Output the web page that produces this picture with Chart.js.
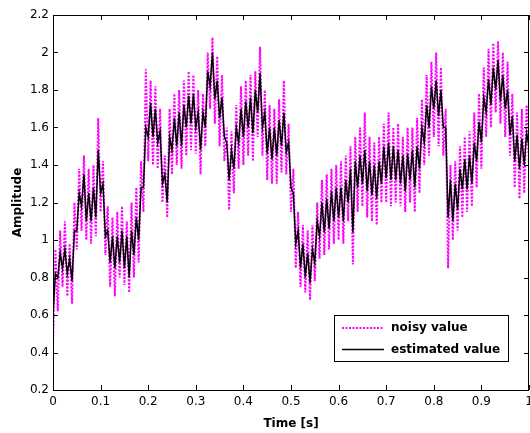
<!DOCTYPE html>
<html>
<head>
<meta charset="utf-8">
<title>Amplitude vs Time</title>
<script src="https://cdn.jsdelivr.net/npm/chart.js@4/dist/chart.umd.min.js"></script>
<style>
  html, body { margin: 0; padding: 0; background: #fff; }
  #wrap { width: 530px; height: 433px; }
</style>
</head>
<body>
<div id="wrap"><canvas id="chart" width="530" height="433"></canvas></div>
<script>
// Sample spacing of both signals, in seconds
const dt = 0.005;

// Axis ticks
const xTicks = [0, 0.1, 0.2, 0.3, 0.4, 0.5, 0.6, 0.7, 0.8, 0.9, 1];
const yTicks = [0.2, 0.4, 0.6, 0.8, 1, 1.2, 1.4, 1.6, 1.8, 2, 2.2];

const noisyValue = [
  0.45, 0.95, 0.62, 1.05, 0.75, 1.10, 0.70, 0.98, 0.66, 1.20,
  0.95, 1.38, 1.05, 1.45, 1.00, 1.38, 0.98, 1.40, 1.02, 1.65,
  1.15, 1.42, 0.92, 1.18, 0.75, 1.12, 0.70, 1.15, 0.80, 1.18,
  0.76, 1.10, 0.72, 1.20, 0.80, 1.28, 0.88, 1.42, 1.15, 1.91,
  1.42, 1.85, 1.40, 1.82, 1.38, 1.70, 1.20, 1.45, 1.12, 1.70,
  1.35, 1.78, 1.40, 1.80, 1.38, 1.85, 1.45, 1.90, 1.48, 1.88,
  1.46, 1.80, 1.35, 1.78, 1.50, 2.00, 1.70, 2.08, 1.62, 1.98,
  1.50, 1.88, 1.42, 1.60, 1.16, 1.58, 1.25, 1.72, 1.38, 1.82,
  1.40, 1.85, 1.45, 1.88, 1.42, 1.90, 1.55, 2.03, 1.45, 1.80,
  1.32, 1.72, 1.30, 1.70, 1.30, 1.75, 1.36, 1.85, 1.35, 1.62,
  1.15, 1.38, 0.85, 1.15, 0.75, 1.08, 0.72, 1.05, 0.68, 1.08,
  0.78, 1.20, 0.90, 1.32, 0.92, 1.35, 0.95, 1.38, 0.98, 1.40,
  1.00, 1.42, 0.98, 1.45, 1.10, 1.50, 0.87, 1.55, 1.15, 1.60,
  1.18, 1.68, 1.12, 1.55, 1.10, 1.52, 1.08, 1.55, 1.20, 1.62,
  1.20, 1.68, 1.18, 1.60, 1.20, 1.62, 1.18, 1.55, 1.15, 1.60,
  1.20, 1.60, 1.15, 1.65, 1.25, 1.75, 1.40, 1.88, 1.45, 1.95,
  1.55, 2.00, 1.50, 1.92, 1.45, 1.70, 0.85, 1.40, 1.00, 1.42,
  1.05, 1.50, 1.12, 1.55, 1.15, 1.58, 1.18, 1.68, 1.28, 1.78,
  1.38, 1.92, 1.55, 2.02, 1.60, 2.05, 1.68, 2.06, 1.62, 2.00,
  1.55, 1.95, 1.45, 1.78, 1.28, 1.68, 1.22, 1.70, 1.25, 1.72,
  1.40
];

// Estimated value (filter output), same time base
const estimatedValue = [
  0.60, 0.82, 0.80, 0.93, 0.85, 0.95, 0.82, 0.90, 0.78, 1.05,
  1.05, 1.25, 1.18, 1.35, 1.10, 1.25, 1.10, 1.28, 1.12, 1.48,
  1.25, 1.30, 1.02, 1.05, 0.88, 1.02, 0.85, 1.02, 0.88, 1.05,
  0.85, 1.02, 0.80, 1.05, 0.92, 1.12, 1.00, 1.28, 1.28, 1.60,
  1.55, 1.73, 1.55, 1.70, 1.52, 1.58, 1.30, 1.35, 1.20, 1.55,
  1.48, 1.65, 1.50, 1.68, 1.50, 1.72, 1.60, 1.77, 1.62, 1.78,
  1.60, 1.68, 1.48, 1.68, 1.60, 1.90, 1.82, 2.00, 1.75, 1.85,
  1.65, 1.76, 1.55, 1.52, 1.32, 1.48, 1.38, 1.60, 1.52, 1.70,
  1.55, 1.74, 1.60, 1.76, 1.57, 1.80, 1.68, 1.89, 1.60, 1.68,
  1.46, 1.60, 1.43, 1.60, 1.45, 1.64, 1.50, 1.68, 1.47, 1.52,
  1.28, 1.25, 0.98, 1.05, 0.85, 0.98, 0.80, 0.93, 0.77, 0.95,
  0.88, 1.10, 1.02, 1.20, 1.04, 1.22, 1.06, 1.26, 1.10, 1.28,
  1.12, 1.28, 1.10, 1.32, 1.20, 1.38, 1.04, 1.42, 1.28, 1.45,
  1.30, 1.48, 1.26, 1.42, 1.24, 1.40, 1.22, 1.42, 1.30, 1.50,
  1.33, 1.52, 1.32, 1.50, 1.32, 1.48, 1.30, 1.45, 1.26, 1.46,
  1.32, 1.48, 1.28, 1.50, 1.38, 1.60, 1.52, 1.72, 1.60, 1.82,
  1.70, 1.85, 1.66, 1.80, 1.60, 1.60, 1.12, 1.32, 1.10, 1.30,
  1.16, 1.38, 1.27, 1.43, 1.27, 1.45, 1.30, 1.52, 1.42, 1.63,
  1.52, 1.76, 1.68, 1.86, 1.72, 1.92, 1.80, 1.96, 1.74, 1.88,
  1.70, 1.80, 1.56, 1.66, 1.42, 1.56, 1.38, 1.54, 1.40, 1.57,
  1.50
];

const toPoints = (values) => values.map((v, i) => ({ x: i * dt, y: v }));

// Frame with inward ticks on all four sides, MATLAB style
const framePlugin = {
  id: 'frame',
  afterDatasetsDraw(chart) {
    const { ctx, chartArea: a, scales } = chart;
    const len = 5;
    ctx.save();
    ctx.strokeStyle = '#000';
    ctx.lineWidth = 1;
    ctx.strokeRect(Math.round(a.left) + 0.5, Math.round(a.top) + 0.5,
      Math.round(a.right - a.left) - 1, Math.round(a.bottom - a.top));
    ctx.beginPath();
    xTicks.forEach(t => {
      const px = Math.round(scales.x.getPixelForValue(t)) + 0.5;
      ctx.moveTo(px, a.bottom); ctx.lineTo(px, a.bottom - len);
      ctx.moveTo(px, a.top); ctx.lineTo(px, a.top + len);
    });
    yTicks.forEach(t => {
      const py = Math.round(scales.y.getPixelForValue(t)) + 0.5;
      ctx.moveTo(a.left, py); ctx.lineTo(a.left + len, py);
      ctx.moveTo(a.right, py); ctx.lineTo(a.right - len, py);
    });
    ctx.stroke();
    ctx.restore();
  }
};

// Legend box in the lower right of the plot
const legendPlugin = {
  id: 'boxLegend',
  afterDraw(chart) {
    const { ctx } = chart;
    const box = { x: 334.5, y: 315.5, w: 174, h: 46 };
    const rows = [
      { ds: chart.data.datasets[0], y: 328 },
      { ds: chart.data.datasets[1], y: 349.5 }
    ];
    ctx.save();
    ctx.fillStyle = '#fff';
    ctx.fillRect(box.x, box.y, box.w, box.h);
    ctx.strokeStyle = '#000';
    ctx.lineWidth = 1;
    ctx.strokeRect(box.x, box.y, box.w, box.h);
    rows.forEach(r => {
      ctx.beginPath();
      ctx.strokeStyle = r.ds.borderColor;
      ctx.lineWidth = r.ds.borderWidth;
      ctx.setLineDash(r.ds.borderDash || []);
      ctx.moveTo(342, r.y);
      ctx.lineTo(384, r.y);
      ctx.stroke();
      ctx.setLineDash([]);
      ctx.fillStyle = '#000';
      ctx.font = 'bold 12px "DejaVu Sans"';
      ctx.textBaseline = 'middle';
      ctx.fillText(r.ds.label, 391, r.y);
    });
    ctx.restore();
  }
};

new Chart(document.getElementById('chart'), {
  type: 'line',
  data: {
    datasets: [
      {
        label: 'noisy value',
        data: toPoints(noisyValue),
        borderColor: '#ff00ff',
        borderWidth: 2,
        borderDash: [2, 1.5],
        pointRadius: 0,
        tension: 0,
        order: 1
      },
      {
        label: 'estimated value',
        data: toPoints(estimatedValue),
        borderColor: '#000000',
        borderWidth: 1.5,
        pointRadius: 0,
        tension: 0,
        order: 0
      }
    ]
  },
  options: {
    responsive: false,
    animation: false,
    layout: { padding: { left: 0, top: 15, right: 1, bottom: 0 } },
    plugins: { legend: { display: false }, tooltip: { enabled: false } },
    scales: {
      x: {
        type: 'linear',
        min: 0,
        max: 1,
        afterBuildTicks: (scale) => { scale.ticks = xTicks.map(v => ({ value: v })); },
        afterFit: (scale) => { scale.height = 43; scale.paddingLeft = 0; scale.paddingRight = 0; },
        grid: { display: false, drawTicks: false },
        border: { display: false },
        ticks: {
          color: '#000',
          padding: 5,
          maxRotation: 0,
          autoSkip: false,
          font: { family: 'DejaVu Sans', size: 12 },
          callback: (v) => String(Number(v.toFixed(1)))
        },
        title: {
          display: true,
          text: 'Time [s]',
          color: '#000',
          padding: { top: 0, bottom: 2 },
          font: { family: 'DejaVu Sans', size: 12, weight: 'bold' }
        }
      },
      y: {
        min: 0.2,
        max: 2.2,
        afterBuildTicks: (scale) => { scale.ticks = yTicks.map(v => ({ value: v })); },
        afterFit: (scale) => { scale.width = 53; scale.paddingTop = 0; scale.paddingBottom = 0; },
        grid: { display: false, drawTicks: false },
        border: { display: false },
        ticks: {
          color: '#000',
          padding: 4,
          autoSkip: false,
          font: { family: 'DejaVu Sans', size: 12 },
          callback: (v) => String(Number(v.toFixed(1)))
        },
        title: {
          display: true,
          text: 'Amplitude',
          color: '#000',
          padding: { top: 11, bottom: 0 },
          font: { family: 'DejaVu Sans', size: 12, weight: 'bold' }
        }
      }
    }
  },
  plugins: [framePlugin, legendPlugin]
});
</script>
</body>
</html>
